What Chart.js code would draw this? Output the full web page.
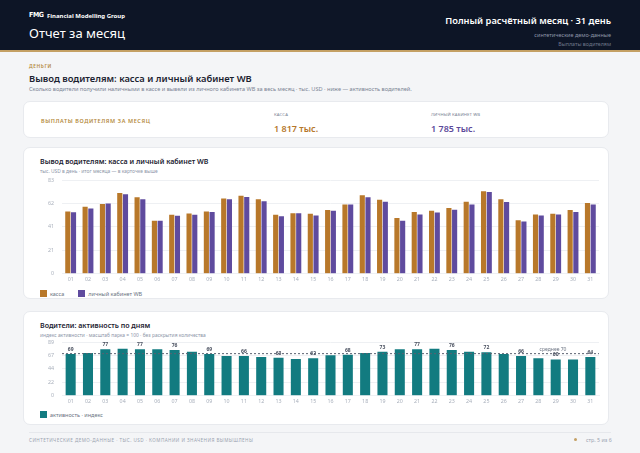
<!DOCTYPE html>
<html lang="ru">
<head>
  <meta charset="UTF-8">
  <title>Отчет за месяц</title>
  <script src="https://cdn.jsdelivr.net/npm/chart.js"></script>
  <style>
    * { box-sizing: border-box; margin: 0; padding: 0; }
    body {
      width: 640px; height: 453px; overflow: hidden;
      font-family: 'Noto Sans', 'Open Sans', sans-serif;
      background: #f4f5f7; color: #1b2230; position: relative;
    }
    .abs { position: absolute; white-space: nowrap; }
    header {
      position: absolute; left: 0; top: 0; width: 640px; height: 52px;
      background: #0d1526; border-bottom: 2px solid #c4a064;
    }
    .card {
      position: absolute; left: 23px; width: 586px; background: #fff;
      border: 1px solid #e8eaee; border-radius: 7px;
    }
    .cap { font-size: 5px; letter-spacing: 0.6px; text-transform: uppercase; }
    .lg { position: absolute; font-size: 5.5px; color: #6b7382; white-space: nowrap; }
    .lg i { display: inline-block; width: 7px; height: 7px; vertical-align: middle; margin-right: 3px; }
    .lg span { vertical-align: middle; margin-right: 14px; }
  </style>
</head>
<body>
  <header>
    <div class="abs" style="left:29px;top:11px;font:700 7px 'DejaVu Sans Condensed',sans-serif;color:#fff;letter-spacing:-0.4px;">FMG</div>
    <div class="abs" style="left:47px;top:12px;font-size:6px;font-weight:700;color:#fff;">Financial Modelling Group</div>
    <div class="abs" style="left:29px;top:24px;font-size:13px;color:#fff;">Отчет за месяц</div>
    <div class="abs" style="right:29px;top:14px;font-size:9.3px;font-weight:600;color:#fff;">Полный расчётный месяц · 31 день</div>
    <div class="abs" style="right:29px;top:31px;font-size:5.5px;color:#8d96a8;">синтетические демо-данные</div>
    <div class="abs" style="right:29px;top:40px;font-size:5.3px;color:#6f788a;">Выплаты водителям</div>
  </header>

  <div class="abs cap" style="left:29px;top:63px;color:#b48a3c;font-weight:600;font-size:4.8px;">Деньги</div>
  <div class="abs" style="left:29px;top:72px;font-size:9.4px;font-weight:600;">Вывод водителям: касса и личный кабинет WB</div>
  <div class="abs" style="left:29px;top:85px;font-size:5.6px;color:#7b8494;">Сколько водители получили наличными в кассе и вывели из личного кабинета WB за весь месяц · тыс. USD · ниже — активность водителей.</div>

  <div class="card" style="top:101px;height:37px;">
    <div class="abs cap" style="left:17px;top:15px;font-size:5.5px;letter-spacing:0.6px;color:#b48a3c;font-weight:600;">Выплаты водителям за месяц</div>
    <div class="abs cap" style="left:250px;top:9px;font-size:4.3px;color:#7b8494;letter-spacing:0.1px;">Касса</div>
    <div class="abs" style="left:250px;top:20px;font-size:9px;font-weight:600;color:#b5772a;">1 817 тыс.</div>
    <div class="abs cap" style="left:407px;top:9px;font-size:4.3px;color:#7b8494;letter-spacing:0.1px;">Личный кабинет WB</div>
    <div class="abs" style="left:407px;top:20px;font-size:9px;font-weight:600;color:#5c4a9a;">1 785 тыс.</div>
  </div>

  <div class="card" style="top:147px;height:152px;">
    <div class="abs" style="left:16px;top:8px;font-size:7.1px;font-weight:600;">Вывод водителям: касса и личный кабинет WB</div>
    <div class="abs" style="left:16px;top:20px;font-size:4.9px;color:#8d96a8;">тыс. USD в день · итог месяца — в карточке выше</div>
  </div>
  <div class="abs" style="left:30px;top:169px;width:578px;height:118px;"><canvas id="payChart"></canvas></div>
  <div class="lg" style="left:40px;top:289px;"><i style="background:#b8782a"></i><span>касса</span><i style="background:#5f4b9e"></i><span>личный кабинет WB</span></div>

  <div class="card" style="top:311px;height:114px;">
    <div class="abs" style="left:16px;top:8px;font-size:7.1px;font-weight:600;">Водители: активность по дням</div>
    <div class="abs" style="left:16px;top:20px;font-size:4.9px;color:#8d96a8;">индекс активности · масштаб парка = 100 · без раскрытия количества</div>
  </div>
  <div class="abs" style="left:30px;top:331px;width:578px;height:78px;"><canvas id="actChart"></canvas></div>
  <div class="lg" style="left:40px;top:410px;"><i style="background:#127b80"></i><span>активность · индекс</span></div>

  <div class="abs" style="left:29px;top:432px;width:582px;border-top:1px solid #e6e8ec;"></div>
  <div class="abs cap" style="left:29px;top:437px;color:#9aa2b0;letter-spacing:0.45px;font-size:4.6px;">Синтетические демо-данные · тыс. USD · компании и значения вымышлены</div>
  <div class="abs" style="left:574px;top:438px;width:3px;height:3px;border-radius:50%;background:#c4a064;"></div>
  <div class="abs" style="left:586px;top:436px;font-size:5.3px;color:#9aa2b0;">стр. 5 из 6</div>

  <script>
    const days = ['01','02','03','04','05','06','07','08','09','10','11','12','13','14','15','16',
                  '17','18','19','20','21','22','23','24','25','26','27','28','29','30','31'];
    const kassa = [55, 59.3, 61.6, 71.5, 67.7, 46.9, 52.1, 53.2, 55, 66.6, 68.9, 66, 52.1, 53.5, 53, 56.4,
                   61.3, 69.4, 65.4, 49.2, 54.7, 55.8, 58.2, 63.7, 72.9, 66, 47.2, 52.4, 53, 56.4, 62.5];
    const cabinet = [54.4, 57.6, 62.2, 70.3, 66, 46.9, 51.2, 52.1, 54.7, 66, 68, 64.2, 50.9, 53.5, 51.5, 55.8,
                     61.3, 67.7, 63.7, 46.9, 52.4, 54.1, 56.7, 61.3, 72.3, 63.4, 46.3, 51.5, 52.4, 54.7, 61.3];
    const activity = [69, 71, 77, 78, 77, 77, 76, 73, 69, 66, 66, 64, 63, 61, 62, 67,
                      68, 71, 73, 77, 77, 78, 76, 73, 72, 69, 66, 62, 60, 60, 64];
    const payMax = 82.8;
    const actMax = 88.8;

    const KASSA = '#b8782a';
    const CABINET = '#5f4b9e';
    const TEAL = '#127b80';
    const tickFont = { family: 'Noto Sans', size: 5.3 };
    const tickColor = '#a9b0bc';

    function yAxis(max) {
      return {
        min: 0, max: max,
        ticks: { stepSize: max / 4, color: tickColor, font: tickFont, padding: 8,
                 callback: v => Math.round(v) },
        grid: { color: '#eef0f3', drawTicks: false },
        border: { display: false },
        afterFit: s => { s.width = 32; }
      };
    }
    const xAxis = {
      ticks: { color: tickColor, font: tickFont, padding: 3, maxRotation: 0, autoSkip: false },
      grid: { display: false, drawTicks: false },
      border: { display: true, color: '#eef0f3' }
    };

    new Chart(document.getElementById('payChart'), {
      type: 'bar',
      data: {
        labels: days,
        datasets: [
          { label: 'касса', data: kassa, backgroundColor: KASSA,
            categoryPercentage: 0.66, barPercentage: 0.9 },
          { label: 'личный кабинет WB', data: cabinet, backgroundColor: CABINET,
            categoryPercentage: 0.66, barPercentage: 0.9 }
        ]
      },
      options: {
        responsive: true, maintainAspectRatio: false, animation: false,
        layout: { padding: { top: 3, right: 9, left: 0, bottom: 1 } },
        plugins: { legend: { display: false }, tooltip: { enabled: false } },
        scales: { x: xAxis, y: yAxis(payMax) }
      }
    });

    const avg = activity.reduce((a, b) => a + b, 0) / activity.length;

    const actLabels = {
      id: 'actLabels',
      afterDatasetsDraw(chart) {
        const ctx = chart.ctx;
        const meta = chart.getDatasetMeta(0);
        const area = chart.chartArea;
        const yAvg = chart.scales.y.getPixelForValue(avg);
        ctx.save();
        ctx.strokeStyle = '#5a6170';
        ctx.lineWidth = 1;
        ctx.setLineDash([2, 2]);
        ctx.beginPath();
        ctx.moveTo(area.left, yAvg);
        ctx.lineTo(area.right, yAvg);
        ctx.stroke();
        ctx.setLineDash([]);
        ctx.font = '5px "Noto Sans"';
        ctx.fillStyle = '#6b7382';
        ctx.textAlign = 'center';
        ctx.textBaseline = 'bottom';
        ctx.fillText('среднее ' + Math.round(avg), area.right - 46, yAvg - 2);
        ctx.font = 'bold 5px "Noto Sans"';
        ctx.fillStyle = '#4a5160';
        meta.data.forEach((bar, i) => {
          if (i % 2 === 0) ctx.fillText(activity[i], bar.x, bar.y - 2);
        });
        ctx.restore();
      }
    };

    new Chart(document.getElementById('actChart'), {
      type: 'bar',
      data: {
        labels: days,
        datasets: [
          { label: 'активность · индекс', data: activity, backgroundColor: TEAL,
            categoryPercentage: 0.58, barPercentage: 1 }
        ]
      },
      options: {
        responsive: true, maintainAspectRatio: false, animation: false,
        layout: { padding: { top: 3, right: 9, left: 0, bottom: 1 } },
        plugins: { legend: { display: false }, tooltip: { enabled: false } },
        scales: { x: xAxis, y: yAxis(actMax) }
      },
      plugins: [actLabels]
    });
  </script>
</body>
</html>
